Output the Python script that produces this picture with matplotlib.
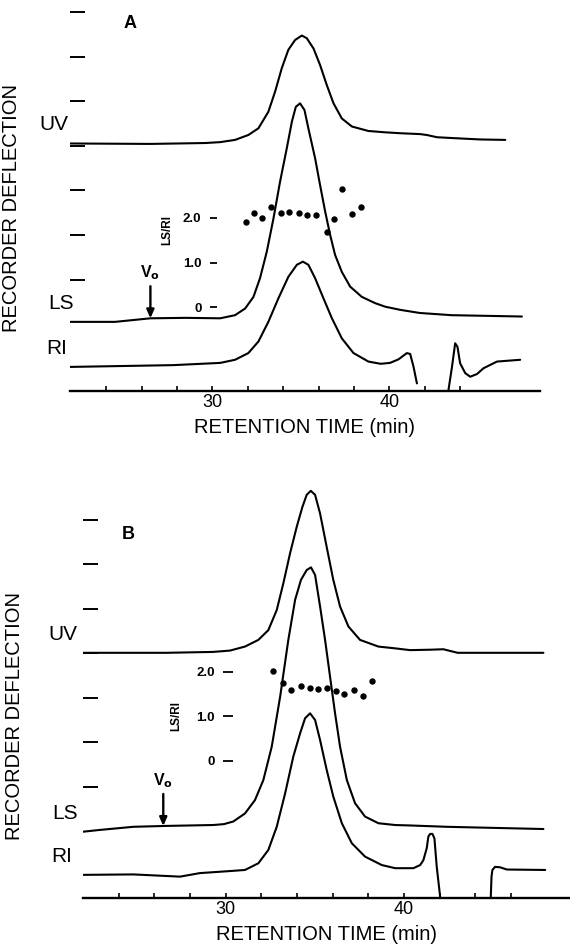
import numpy as np
import matplotlib
matplotlib.use('Agg')
import matplotlib.pyplot as plt

plt.rcParams['font.family'] = ['Liberation Sans', 'DejaVu Sans']

# ---- panel A ----
a_uv_t = [21.96, 26.5, 29.6, 30.44, 31.28, 32.03, 32.60, 33.16, 33.54, 33.92, 34.29, 34.67, 35.05,
          35.33, 35.71, 36.08, 36.46, 36.84, 37.31, 37.88, 38.81, 39.76, 40.60, 41.73, 42.11,
          42.68, 43.62, 45.12, 46.54]
a_uv_y = [5.55, 5.54, 5.56, 5.58, 5.63, 5.74, 5.89, 6.26, 6.71, 7.24, 7.65, 7.87, 7.97,
          7.91, 7.68, 7.31, 6.86, 6.45, 6.11, 5.93, 5.83, 5.80, 5.78, 5.76, 5.74,
          5.69, 5.67, 5.64, 5.63]

a_ls_t = [21.96, 24.5, 26.5, 28.5, 30.44, 31.28, 31.85, 32.32, 32.69, 33.07, 33.45, 33.82,
          34.20, 34.49, 34.71, 34.95, 35.20, 35.42, 35.80, 36.08, 36.37, 36.65, 36.93, 37.31,
          37.78, 38.44, 39.19, 39.76, 40.60, 41.70, 43.50, 47.48]
a_ls_y = [1.55, 1.55, 1.63, 1.64, 1.63, 1.70, 1.85, 2.11, 2.53, 3.12, 3.87, 4.69,
          5.44, 6.04, 6.37, 6.45, 6.30, 5.89, 5.22, 4.62, 4.02, 3.50, 3.05, 2.67,
          2.34, 2.11, 1.97, 1.89, 1.82, 1.75, 1.70, 1.67]

a_ri_t = [21.96, 27.79, 30.44, 31.28, 32.03, 32.60, 33.16, 33.73, 34.29, 34.77, 35.11, 35.42,
          35.80, 36.27, 36.75, 37.31, 37.97, 38.81, 39.50, 40.03, 40.51, 40.98, 41.17, 41.36, 41.55]
a_ri_y = [0.54, 0.58, 0.63, 0.70, 0.85, 1.11, 1.55, 2.08, 2.56, 2.83, 2.90, 2.83,
          2.53, 2.08, 1.63, 1.18, 0.85, 0.66, 0.61, 0.63, 0.71, 0.85, 0.83, 0.54, 0.17]
a_ri2_t = [43.33, 43.53, 43.71, 43.84, 43.99, 44.28, 44.56, 44.94, 45.31, 46.07, 47.38]
a_ri2_y = [0.02, 0.54, 1.07, 0.99, 0.62, 0.40, 0.32, 0.38, 0.51, 0.66, 0.70]

a_ratio_t = [31.89, 32.36, 32.82, 33.32, 33.88, 34.35, 34.90, 35.34, 35.86, 36.46, 36.88, 37.33, 37.88, 38.38]
a_ratio = [1.90, 2.10, 2.00, 2.25, 2.10, 2.13, 2.12, 2.07, 2.07, 1.69, 1.98, 2.65, 2.08, 2.25]

# ---- panel B ----
b_uv_t = [22.01, 26.69, 29.29, 30.24, 31.08, 31.83, 32.39, 32.86, 33.23, 33.61, 33.98, 34.30,
          34.54, 34.77, 35.01, 35.29, 35.66, 36.03, 36.41, 36.88, 37.53, 38.56, 39.50, 40.34,
          41.50, 42.20, 42.60, 43.00, 44.26, 47.81]
b_uv_y = [5.51, 5.51, 5.53, 5.56, 5.65, 5.80, 6.02, 6.47, 7.07, 7.75, 8.34, 8.79,
          9.06, 9.15, 9.06, 8.64, 7.89, 7.15, 6.55, 6.10, 5.80, 5.65, 5.61, 5.57,
          5.58, 5.59, 5.55, 5.51, 5.51, 5.51]

b_ls_t = [22.01, 22.95, 24.82, 26.69, 29.30, 29.90, 30.43, 31.08, 31.64, 32.11, 32.58, 33.05, 33.51,
          33.89, 34.22, 34.54, 34.78, 35.01, 35.29, 35.57, 35.85, 36.13, 36.41, 36.79, 37.25,
          37.81, 38.56, 39.50, 40.34, 42.39, 47.81]
b_ls_y = [1.49, 1.53, 1.60, 1.62, 1.64, 1.66, 1.72, 1.90, 2.20, 2.65, 3.40, 4.52, 5.80,
          6.70, 7.15, 7.37, 7.43, 7.26, 6.55, 5.80, 4.97, 4.15, 3.40, 2.65, 2.13,
          1.83, 1.68, 1.64, 1.63, 1.60, 1.55]

b_ri_t = [22.01, 24.82, 27.44, 28.56, 29.68, 30.40, 31.08, 31.83, 32.39, 32.86, 33.33, 33.79,
          34.17, 34.45, 34.73, 35.01, 35.29, 35.66, 36.03, 36.51, 37.07, 37.81, 38.75, 39.50,
          40.52, 40.90, 41.08, 41.27, 41.36, 41.46, 41.59, 41.70, 41.83, 42.02]
b_ri_y = [0.52, 0.53, 0.48, 0.56, 0.59, 0.61, 0.63, 0.78, 1.08, 1.60, 2.35, 3.18,
          3.70, 4.04, 4.15, 4.00, 3.55, 2.88, 2.28, 1.68, 1.23, 0.93, 0.74, 0.67,
          0.67, 0.74, 0.85, 1.12, 1.38, 1.44, 1.44, 1.34, 0.70, 0.03]
b_ri2_t = [44.86, 44.90, 44.95, 45.10, 45.38, 45.76, 47.91]
b_ri2_y = [0.03, 0.48, 0.63, 0.70, 0.69, 0.64, 0.63]

b_ratio_t = [32.64, 33.20, 33.66, 34.22, 34.74, 35.16, 35.66, 36.19, 36.62, 37.20, 37.68, 38.19]
b_ratio = [2.02, 1.76, 1.60, 1.68, 1.64, 1.61, 1.63, 1.58, 1.51, 1.59, 1.45, 1.80]

defl_ticks = [2.5, 3.5, 4.5, 5.5, 6.5, 7.5, 8.5]
time_ticks = [24, 26, 28, 30, 32, 34, 36, 38, 40, 42, 44, 46]
time_labels = {30: '30', 40: '40'}
ratio_ticks = [0, 1.0, 2.0]
ratio_labels = ['0', '1.0', '2.0']
v0_time = 26.5

W, H = 570, 952
fig = plt.figure(figsize=(W / 100, H / 100), dpi=100)
LW = 1.5


def px_axes(left, right, bottom, top):
    return fig.add_axes([left / W, 1 - bottom / H, (right - left) / W, (bottom - top) / H])


def draw_panel(ax, letter, traces, ratio_t, ratio_v, ratio_off, ratio_lab_xy,
               xlim, ylim, last_tick, lab_dx, letter_xy, tick_len):
    for t, y in traces:
        ax.plot(t, y, color='k', lw=LW, solid_capstyle='round', solid_joinstyle='round')
    ax.set_xlim(*xlim)
    ax.set_ylim(*ylim)
    for s in ['top', 'right', 'left']:
        ax.spines[s].set_visible(False)
    ax.spines['bottom'].set_linewidth(1.7)
    ax.set_yticks(defl_ticks)
    ax.set_yticklabels([])
    ax.tick_params(axis='y', direction='in', length=10.5, width=1.4, left=True)
    ticks = [t for t in time_ticks if t <= last_tick]
    ax.set_xticks(ticks)
    ax.set_xticklabels([time_labels.get(t, '') for t in ticks], fontsize=13)
    ax.tick_params(axis='x', direction='in', length=3.5, width=1.2, pad=2.5)
    ax.set_xlabel('RETENTION TIME (min)', fontsize=14.5, labelpad=5)

    # trace names, just left of the axes
    uv, ls, ri = traces[0], traces[1], traces[2]
    for name, tr, dx in [('UV', uv, lab_dx[0]), ('LS', ls, lab_dx[1]), ('RI', ri, lab_dx[2])]:
        ax.annotate(name, xy=(0, tr[1][0] + 0.42), xycoords=ax.get_yaxis_transform(),
                    xytext=(dx, 0), textcoords='offset points',
                    ha='right', va='center', fontsize=15)
    ax.text(letter_xy[0], letter_xy[1], letter, fontsize=13, fontweight='heavy',
            ha='center', va='center')

    # void volume arrow on the LS trace
    base = np.interp(v0_time, ls[0], ls[1])
    ax.annotate('', xy=(v0_time, base), xytext=(v0_time, base + 0.72),
                arrowprops=dict(arrowstyle='-|>,head_length=0.5,head_width=0.22',
                                color='k', lw=1.7, shrinkA=0, shrinkB=0))
    ax.text(v0_time, base + 1.02, r'V$_\mathbf{o}$', fontsize=11.5, fontweight='bold',
            ha='center', va='center')

    # LS/RI ratio scale drawn inside the plot
    ax2 = ax.twinx()
    ax2.set_ylim(ylim[0] - ratio_off, ylim[1] - ratio_off)
    for s in ax2.spines.values():
        s.set_visible(False)
    ax2.spines['left'].set_position(('data', 29.85))
    ax2.yaxis.set_ticks_position('left')
    ax2.set_yticks(ratio_ticks)
    ax2.set_yticklabels(ratio_labels, fontsize=9.5, fontweight='bold')
    ax2.tick_params(axis='y', direction='in', length=tick_len, width=1.3, pad=6)
    ax2.plot(ratio_t, ratio_v, 'o', color='k', ms=4.6, mec='none')
    ax2.text(ratio_lab_xy[0], ratio_lab_xy[1], 'LS/RI', rotation=90, fontsize=8.5,
             fontweight='bold', ha='center', va='center')
    return ax2


axA = px_axes(70, 540, 391, 391 - 8.75 * 44.6)
draw_panel(axA, 'A',
           [(a_uv_t, a_uv_y), (a_ls_t, a_ls_y), (a_ri_t, a_ri_y), (a_ri2_t, a_ri2_y)],
           a_ratio_t, a_ratio, 1.88, (27.45, 1.73),
           (21.96, 48.5), (0, 8.75), 44, (-1, 3, -2), (25.35, 8.25), 5)

axB = px_axes(83, 570, 898, 898 - 9.7 * 44.5)
draw_panel(axB, 'B',
           [(b_uv_t, b_uv_y), (b_ls_t, b_ls_y), (b_ri_t, b_ri_y), (b_ri2_t, b_ri2_y)],
           b_ratio_t, b_ratio, 3.08, (27.21, 1.0),
           (22.0, 49.3), (0, 9.7), 46, (-4, -4, -8), (24.52, 8.16), 7)

fig.text(12 / W, 1 - 208 / H, 'RECORDER DEFLECTION', rotation=90, fontsize=14.5,
         ha='center', va='center')
fig.text(15 / W, 1 - 716 / H, 'RECORDER DEFLECTION', rotation=90, fontsize=14.5,
         ha='center', va='center')

fig.savefig('out.png', dpi=100)
